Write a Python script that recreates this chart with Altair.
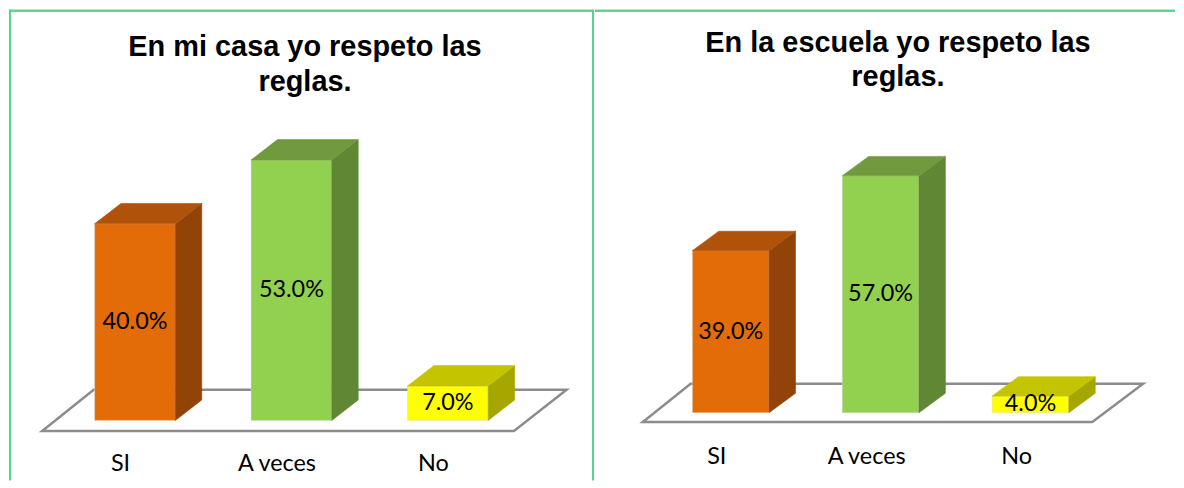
import altair as alt
import pandas as pd

# ---------------- data ----------------
categories = ["SI", "A veces", "No"]
casa_values = [40.0, 53.0, 7.0]
escuela_values = [39.0, 57.0, 4.0]
titles = ["En mi casa yo respeto las\nreglas.", "En la escuela yo respeto las\nreglas."]

front_colors = ["#E36C09", "#92D050", "#FFFF00"]
top_colors = ["#B0520A", "#71993E", "#C4C400"]
side_colors = ["#924408", "#5F8734", "#A6A600"]

BORDER = "#52D68E"
FLOOR = "#8C8C8C"
LABEL_FONT = "Lato"
TITLE_FONT = "Liberation Sans"

# ---------------- layout (pixels, per panel) ----------------
LEFT = dict(w=586, h=472, x0=126.4, step=157.0, y0=412.0, ppu=4.93, bar_w=81,
            dx=26.5, dy=20.5, floor_f=(-93.1, 380.3, 10.7), floor_b=(-41.4, 433.1, 30.7),
            lab_dx=-14.5, lab_dy=44.0, title_x=297, title_y=37, title_lh=35,
            right_border=True)
RIGHT = dict(w=582, h=472, x0=136.2, step=150.4, y0=404.3, ppu=4.17, bar_w=77,
             dx=26.5, dy=19.5, floor_f=(-88.2, 362.8, 9.4), floor_b=(-40.2, 413.8, 29.0),
             lab_dx=-14.0, lab_dy=44.4, title_x=304, title_y=33.5, title_lh=33.5,
             right_border=False)


def panel(values, title, L):
    step, ppu = L["step"], L["ppu"]
    xs = alt.Scale(domain=[-L["x0"] / step, (L["w"] - L["x0"]) / step], nice=False, zero=False)
    ys = alt.Scale(domain=[(L["y0"] - L["h"]) / ppu, L["y0"] / ppu], nice=False, zero=False)
    hw = L["bar_w"] / 2 / step
    dx = L["dx"] / step
    dy = L["dy"] / ppu

    front, side, top = [], [], []
    for i, (c, v) in enumerate(zip(categories, values)):
        lo, hi = i - hw, i + hw
        front.append(dict(cat=c, x=lo, x2=hi, y=0.0, y2=v, col=front_colors[i],
                          label=f"{v:.1f}%", mid=v / 2, xc=float(i),
                          xl=i + L["lab_dx"] / step, yl=-L["lab_dy"] / ppu))
        side.append(dict(cat=c, x=hi, y=0.0, y2=v, col=side_colors[i]))
        side.append(dict(cat=c, x=hi + dx, y=dy, y2=v + dy, col=side_colors[i]))
        top.append(dict(cat=c, y=v, x=lo, x2=hi, col=top_colors[i]))
        top.append(dict(cat=c, y=v + dy, x=lo + dx, x2=hi + dx, col=top_colors[i]))

    ff, fb = L["floor_f"], L["floor_b"]
    floor = pd.DataFrame([
        dict(y=-ff[2] / ppu, x=ff[0] / step, x2=ff[1] / step),
        dict(y=fb[2] / ppu, x=fb[0] / step, x2=fb[1] / step),
    ])
    front = pd.DataFrame(front)
    side = pd.DataFrame(side)
    top = pd.DataFrame(top)

    X = lambda f: alt.X(f, scale=xs, axis=None)
    Y = lambda f: alt.Y(f, scale=ys, axis=None)

    floor_l = alt.Chart(floor).mark_area(orient="horizontal", fill="white", stroke=FLOOR,
                                         strokeWidth=2.5).encode(
        y=Y("y:Q"), x=alt.X("x:Q", scale=xs, axis=None, stack=None), x2="x2:Q")

    front_l = alt.Chart(front).mark_rect(strokeWidth=0.8, stroke="#D9D9D9", strokeOpacity=0.6).encode(
        x=X("x:Q"), x2="x2:Q", y=Y("y:Q"), y2="y2:Q",
        fill=alt.Fill("col:N", scale=None))

    side_l = alt.Chart(side).mark_area(strokeWidth=0.6).encode(
        x=X("x:Q"), y=alt.Y("y:Q", scale=ys, axis=None, stack=None), y2="y2:Q",
        detail="cat:N", fill=alt.Fill("col:N", scale=None), stroke=alt.Stroke("col:N", scale=None))

    top_l = alt.Chart(top).mark_area(orient="horizontal", strokeWidth=0.6).encode(
        y=Y("y:Q"), x=alt.X("x:Q", scale=xs, axis=None, stack=None), x2="x2:Q",
        detail="cat:N", fill=alt.Fill("col:N", scale=None), stroke=alt.Stroke("col:N", scale=None))

    val_l = alt.Chart(front).mark_text(font=LABEL_FONT, fontSize=23.5, color="black",
                                        baseline="middle", align="center").encode(
        x=X("xc:Q"), y=Y("mid:Q"), text="label:N")

    cat_l = alt.Chart(front).mark_text(font=LABEL_FONT, fontSize=23.5, color="black",
                                        baseline="middle", align="center").encode(
        x=X("xl:Q"), y=Y("yl:Q"), text="cat:N")

    title_l = alt.Chart(pd.DataFrame({"t": [title]})).mark_text(
        font=TITLE_FONT, fontSize=29, fontWeight="bold", color="black", lineBreak="\n",
        lineHeight=L["title_lh"], align="center", baseline="middle").encode(
        x=alt.value(L["title_x"]), y=alt.value(L["title_y"]), text="t:N")

    borders = [
        alt.Chart(floor).mark_rule(color=BORDER, strokeWidth=2).encode(
            x=alt.value(0), x2=alt.value(L["w"]), y=alt.value(1)),
    ]
    if L["right_border"]:
        borders.append(alt.Chart(floor).mark_rule(color=BORDER, strokeWidth=2).encode(
            x=alt.value(1), y=alt.value(0), y2=alt.value(L["h"])))
        borders.append(alt.Chart(floor).mark_rule(color=BORDER, strokeWidth=2).encode(
            x=alt.value(L["w"]), y=alt.value(0), y2=alt.value(L["h"])))

    return alt.layer(floor_l, front_l, side_l, top_l, val_l, cat_l, title_l, *borders).properties(
        width=L["w"], height=L["h"])


chart = alt.hconcat(
    panel(casa_values, titles[0], LEFT),
    panel(escuela_values, titles[1], RIGHT),
    spacing=0,
).properties(padding=0, background="white").configure_view(strokeWidth=0)

chart.save("out.html", embed_options={"renderer": "svg", "actions": False})
